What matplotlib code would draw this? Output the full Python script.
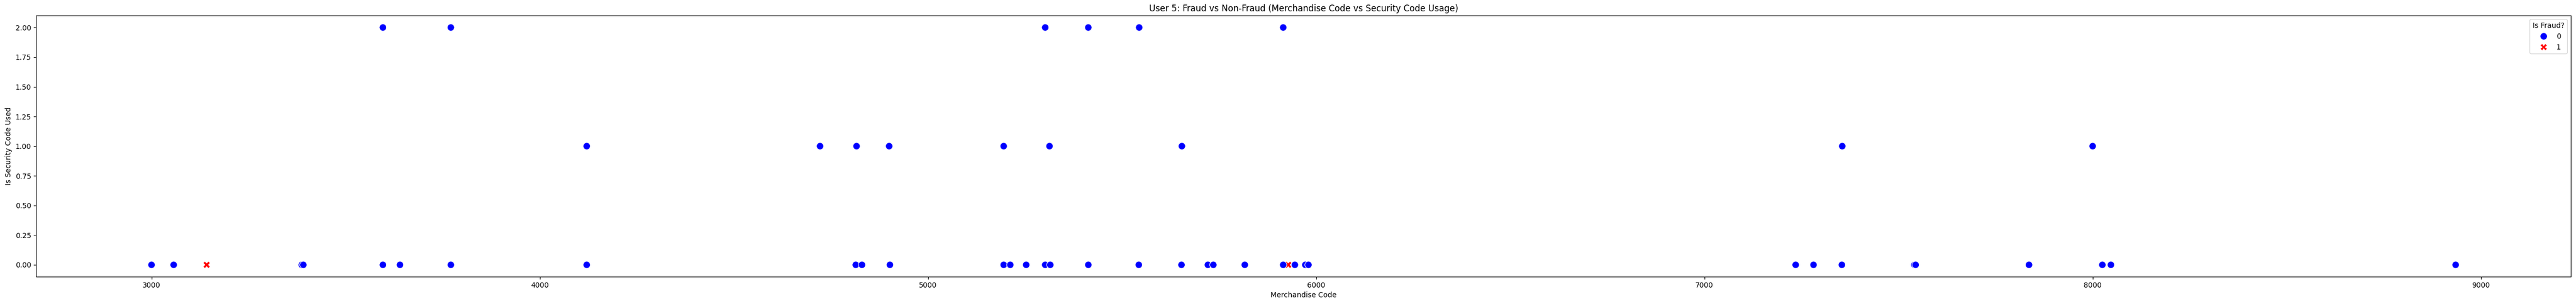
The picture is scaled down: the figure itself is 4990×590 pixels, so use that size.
import pandas as pd
import matplotlib
matplotlib.use("Agg")
import matplotlib.pyplot as plt
import seaborn as sns

# fraud rows first so they sit underneath the blue points, as in the original
fraud_codes = [3142, 5928]
fraud_security = [0, 0]

ok_codes_0 = [3000, 3057, 3387, 3391, 3596, 3640, 3771, 4121, 4814, 4830, 4902,
              5195, 5212, 5253, 5302, 5315, 5413, 5543, 5653, 5721, 5735, 5816,
              5915, 5945, 5972, 5980, 7235, 7281, 7354, 7541, 7544, 7836, 8025,
              8047, 8935]
ok_codes_1 = [4121, 4722, 4816, 4900, 5195, 5313, 5654, 7355, 8000]
ok_codes_2 = [3596, 3771, 5302, 5413, 5544, 5915]

codes = fraud_codes + ok_codes_0 + ok_codes_1 + ok_codes_2
security = fraud_security + [0] * len(ok_codes_0) + [1] * len(ok_codes_1) + [2] * len(ok_codes_2)
is_fraud = [1] * len(fraud_codes) + [0] * (len(ok_codes_0) + len(ok_codes_1) + len(ok_codes_2))

df = pd.DataFrame({'Merchandise Code': codes,
                   'Is Security Code Used': security,
                   'Is Fraud?': is_fraud})

fig = plt.figure(figsize=(49.9, 5.9), dpi=100)
ax = fig.add_subplot(111)
sns.scatterplot(data=df, x='Merchandise Code', y='Is Security Code Used',
                hue='Is Fraud?', style='Is Fraud?',
                palette={0: 'blue', 1: 'red'}, markers={0: 'o', 1: 'X'},
                s=100, ax=ax)
ax.set_title('User 5: Fraud vs Non-Fraud (Merchandise Code vs Security Code Usage)')
ax.set_xlabel('Merchandise Code')
ax.set_ylabel('Is Security Code Used')
ax.legend(title='Is Fraud?', loc='upper right')
fig.subplots_adjust(left=0.0141, right=0.998, bottom=0.0898, top=0.9486)
fig.savefig('out.png', dpi=100)
